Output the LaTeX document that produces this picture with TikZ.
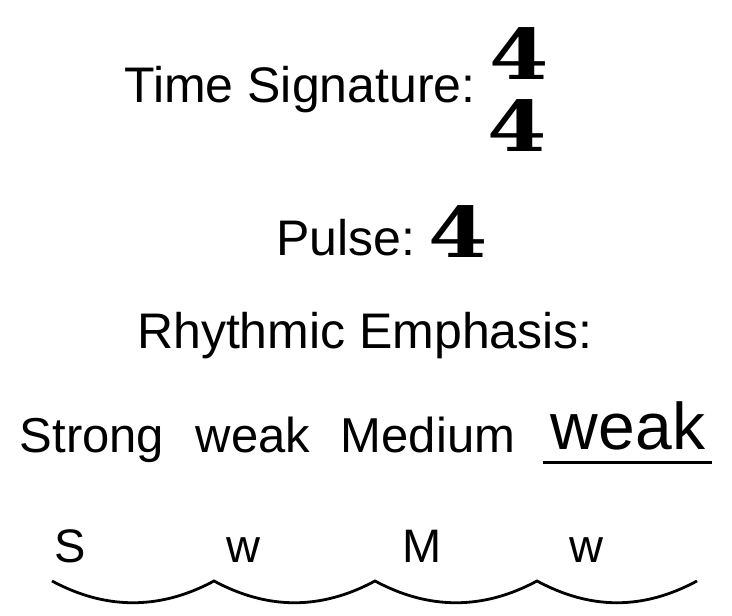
\documentclass[tikz,border=0pt]{standalone}
\usepackage{fontspec}
\setmainfont{Liberation Sans}
\newfontfamily\numfont{DejaVu Serif}
\begin{document}
\begin{tikzpicture}[x=1pt,y=-1pt,
  lbl/.style={inner sep=0pt,anchor=base,font=\fontsize{50}{50}\selectfont},
  row/.style={inner sep=0pt,anchor=base,font=\fontsize{49}{49}\selectfont},
  small/.style={inner sep=0pt,anchor=base,font=\fontsize{47}{47}\selectfont},
  num/.style={inner sep=0pt,anchor=south,xscale=1.22,font=\fontsize{70}{70}\selectfont\numfont\bfseries},
  arc/.style={line width=2.8pt}]
\useasboundingbox (0,0) rectangle (732,616);
\node[lbl] (ts) at (300,102) {Time Signature:};
\node[num] (n1) at (519,80) {4};
\node[num] (n2) at (517,152) {4};
\node[lbl] (pu) at (346,255) {Pulse:};
\node[num] (n3) at (458,258) {4};
\node[lbl] (re) at (365,348) {Rhythmic Emphasis:};
\node[row] (st) at (92,452) {Strong};
\node[row] (w1) at (253,452) {weak};
\node[row] (me) at (428,452) {Medium};
\node[inner sep=0pt,anchor=base,font=\fontsize{66}{66}\selectfont] (w2) at (628,449) {weak};
\coordinate (u1) at (543,462);
\coordinate (u2) at (712,462);
\draw[line width=3pt] (u1) -- (u2);
\node[small] (s) at (70,562) {S};
\node[small] (a) at (243,562) {w};
\node[small] (m) at (422,562) {M};
\node[small] (b) at (586,562) {w};
\coordinate (p0) at (52,581);
\coordinate (p1) at (214,581);
\coordinate (p2) at (375,581);
\coordinate (p3) at (537,581);
\coordinate (p4) at (697,581);
\draw[arc] (p0) .. controls ([xshift=54]p0|-0,610) and ([xshift=-54]p1|-0,610) .. (p1)
  .. controls ([xshift=54]p1|-0,610) and ([xshift=-54]p2|-0,610) .. (p2)
  .. controls ([xshift=54]p2|-0,610) and ([xshift=-54]p3|-0,610) .. (p3)
  .. controls ([xshift=54]p3|-0,610) and ([xshift=-54]p4|-0,610) .. (p4);
\end{tikzpicture}
\end{document}
